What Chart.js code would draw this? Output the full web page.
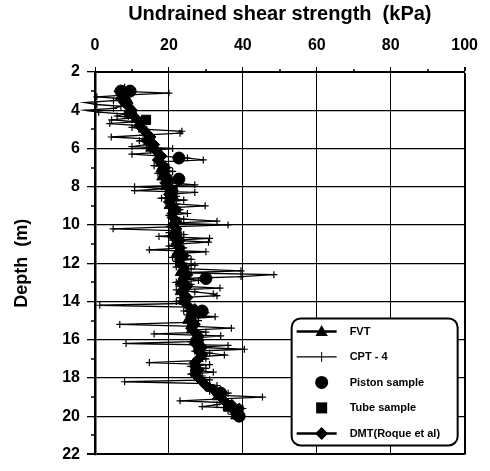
<!DOCTYPE html>
<html>
<head>
<meta charset="utf-8">
<script src="https://cdn.jsdelivr.net/npm/chart.js@4.4.1/dist/chart.umd.min.js"></script>
<style>
  html, body { margin: 0; padding: 0; background: #fff; }
</style>
</head>
<body>
<canvas id="chart_strength" width="490" height="471"></canvas>
<script>
// CPT - 4 trace, one reading every 0.1 m
const cptDepth = [
  2.8, 2.9,
  3.0, 3.1, 3.2, 3.3, 3.4, 3.5, 3.6, 3.7, 3.8, 3.9,
  4.0, 4.1, 4.2, 4.3, 4.4, 4.5, 4.6, 4.7, 4.8, 4.9,
  5.0, 5.1, 5.2, 5.3, 5.4, 5.5, 5.6, 5.7, 5.8, 5.9,
  6.0, 6.1, 6.2, 6.3, 6.4, 6.5, 6.6, 6.7, 6.8, 6.9,
  7.0, 7.1, 7.2, 7.3, 7.4, 7.5, 7.6, 7.7, 7.8, 7.9,
  8.0, 8.1, 8.2, 8.3, 8.4, 8.5, 8.6, 8.7, 8.8, 8.9,
  9.0, 9.1, 9.2, 9.3, 9.4, 9.5, 9.6, 9.7, 9.8, 9.9,
  10.0, 10.1, 10.2, 10.3, 10.4, 10.5, 10.6, 10.7, 10.8, 10.9,
  11.0, 11.1, 11.2, 11.3, 11.4, 11.5, 11.6, 11.7, 11.8, 11.9,
  12.0, 12.1, 12.2, 12.3, 12.4, 12.5, 12.6, 12.7, 12.8, 12.9,
  13.0, 13.1, 13.2, 13.3, 13.4, 13.5, 13.6, 13.7, 13.8, 13.9,
  14.0, 14.1, 14.2, 14.3, 14.4, 14.5, 14.6, 14.7, 14.8, 14.9,
  15.0, 15.1, 15.2, 15.3, 15.4, 15.5, 15.6, 15.7, 15.8, 15.9,
  16.0, 16.1, 16.2, 16.3, 16.4, 16.5, 16.6, 16.7, 16.8, 16.9,
  17.0, 17.1, 17.2, 17.3, 17.4, 17.5, 17.6, 17.7, 17.8, 17.9,
  18.0, 18.1, 18.2, 18.3, 18.4, 18.5, 18.6, 18.7, 18.8, 18.9,
  19.0, 19.1, 19.2, 19.3, 19.4, 19.5, 19.6, 19.7, 19.8, 19.9,
  20.0
];
const cptSu = [
  8, 10,
  6, 20, 9, 0.5, 8, 5, -2.7, 0.5, 7, 5,
  -2.7, 1, 8, 6, 10, 4.5, 11, 4, 12, 10,
  14, 23.5, 23, 13, 4.4, 14, 12, 16, 14, 10,
  21, 15, 17, 10, 18, 25, 29.3, 17, 19, 16,
  20, 18, 21, 17, 20, 18, 22, 19, 21, 27,
  10.7, 19, 10.7, 27, 20, 22, 18, 24, 20, 22,
  29.8, 20, 23, 21, 25, 20, 22, 24, 33, 21,
  36, 20, 4.9, 22, 20, 24, 17.3, 31, 21, 30.7,
  22, 20, 24, 14.7, 30, 22, 25, 21, 26, 22,
  24, 27, 22, 26, 39.5, 23, 48.4, 39.5, 24, 28,
  22, 26, 23, 33.8, 22, 27, 32, 33, 23, 25,
  22, 24, 1.3, 25, 29, 24, 30, 25, 32.5, 26,
  28, 25, 6.7, 27, 36.9, 26, 30, 16, 34, 27,
  29, 26, 8.4, 36, 28, 40.4, 27, 31, 35, 28,
  30, 27, 14.7, 31, 26, 30, 27, 32, 26, 29,
  28, 31, 8, 30, 33, 30, 34, 31, 36, 33,
  45.3, 34, 23, 36, 33, 29, 40, 36, 38, 37,
  39
];

// DMT (Roque et al), every 0.2 m
const dmtDepth = [
  3.0, 3.2, 3.4, 3.6, 3.8, 4.0, 4.2, 4.4, 4.6, 4.8,
  5.0, 5.2, 5.4, 5.6, 5.8, 6.0, 6.2, 6.4, 6.6, 6.8,
  7.0, 7.2, 7.4, 7.6, 7.8, 8.0, 8.2, 8.4, 8.6, 8.8,
  9.0, 9.2, 9.4, 9.6, 9.8, 10.0, 10.2, 10.4, 10.6, 10.8,
  11.0, 11.2, 11.4, 11.6, 11.8, 12.0, 12.2, 12.4, 12.6, 12.8,
  13.0, 13.2, 13.4, 13.6, 13.8, 14.0, 14.2, 14.4, 14.6, 14.8,
  15.0, 15.2, 15.4, 15.6, 15.8, 16.0, 16.2, 16.4, 16.6, 16.8,
  17.0, 17.2, 17.4, 17.6, 17.8, 18.0, 18.2, 18.4, 18.6, 18.8,
  19.0, 19.2, 19.4, 19.6, 19.8, 20.0
];
const dmtSu = [
  9, 8, 7, 8, 9, 10, 9, 11, 12, 12,
  13, 14, 15, 14, 16, 16, 17, 18, 17, 18,
  19, 18, 19, 20, 19, 20, 21, 20, 21, 20,
  21, 22, 21, 21, 22, 21, 22, 22, 21, 23,
  22, 23, 23, 24, 23, 23, 24, 24, 25, 24,
  24, 25, 24, 24, 25, 24, 25, 27, 28, 26,
  26, 27, 26, 27, 28, 28, 27, 29, 28, 29,
  28, 27, 27, 28, 27, 28, 29, 30, 32, 33,
  34, 35, 37, 39, 38, 39
];

// field vane tests
const fvtDepth = [
  3.0, 3.5, 4.0, 4.5, 5.0, 5.5, 6.0, 6.5, 7.0, 7.5,
  8.0, 8.5, 9.0, 9.5, 10.0, 10.5, 11.0, 11.5, 12.0, 12.5,
  13.0, 13.5, 14.0, 14.5, 15.0, 15.5, 16.0, 16.5, 17.0, 17.5,
  18.0, 18.5, 19.0, 19.5, 20.0
];
const fvtSu = [
  8, 9, 10, 11, 13, 14, 15, 17, 18, 18,
  19, 20, 20, 21, 21, 21, 22, 22, 23, 23,
  23, 23, 24, 26, 25, 26, 27, 28, 28, 27,
  28, 31, 33, 36, 38
];

// laboratory tests on samples
const pistonDepth = [3.0, 3.0, 6.5, 7.6, 12.8, 14.5, 18.8, 20.0];
const pistonSu = [7, 9.5, 22.7, 22.7, 30, 29, 34, 39];
const tubeDepth = [4.5, 8.2, 10.5, 16.3, 19.5];
const tubeSu = [13.8, 21, 22, 28, 36];

const seriesLabels = ['FVT', 'CPT - 4', 'Piston sample', 'Tube sample', 'DMT(Roque et al)'];

const depthTicks = [2, 4, 6, 8, 10, 12, 14, 16, 18, 20, 22];
const strengthTicks = [0, 20, 40, 60, 80, 100];

const fontFamily = "'Liberation Sans', Arial, Helvetica, sans-serif";
const ink = '#000';

function toPoints(depths, values) {
  return depths.map((d, i) => ({ x: values[i], y: d }));
}

// small outward ticks half way between the labelled ones
const minorTicks = {
  id: 'minorTicks',
  afterDraw(chart) {
    const { ctx, chartArea, scales: { x, y } } = chart;
    ctx.save();
    ctx.strokeStyle = ink;
    ctx.lineWidth = 1.5;
    ctx.beginPath();
    for (let i = 1; i < x.ticks.length; i++) {
      const px = Math.round(x.getPixelForValue((x.ticks[i - 1].value + x.ticks[i].value) / 2));
      ctx.moveTo(px, chartArea.top - 3);
      ctx.lineTo(px, chartArea.top + 1);
    }
    for (let i = 1; i < y.ticks.length; i++) {
      const py = Math.round(y.getPixelForValue((y.ticks[i - 1].value + y.ticks[i].value) / 2));
      ctx.moveTo(chartArea.left - 4, py);
      ctx.lineTo(chartArea.left + 1, py);
    }
    ctx.stroke();
    ctx.restore();
  }
};

function drawMarker(ctx, style, x, y, r) {
  ctx.beginPath();
  if (style === 'triangle') {
    ctx.moveTo(x, y - r);
    ctx.lineTo(x + r * 0.95, y + r * 0.7);
    ctx.lineTo(x - r * 0.95, y + r * 0.7);
    ctx.closePath();
    ctx.fill();
  } else if (style === 'circle') {
    ctx.arc(x, y, r, 0, Math.PI * 2);
    ctx.fill();
  } else if (style === 'rect') {
    ctx.rect(x - r * 0.85, y - r * 0.85, r * 1.7, r * 1.7);
    ctx.fill();
  } else if (style === 'rectRot') {
    ctx.moveTo(x, y - r);
    ctx.lineTo(x + r, y);
    ctx.lineTo(x, y + r);
    ctx.lineTo(x - r, y);
    ctx.closePath();
    ctx.fill();
  } else if (style === 'cross') {
    ctx.moveTo(x, y - r);
    ctx.lineTo(x, y + r);
    ctx.lineWidth = 1;
    ctx.stroke();
  }
}

// legend in a rounded box at the lower right of the plot
const boxLegend = {
  id: 'boxLegend',
  afterDatasetsDraw(chart) {
    const { ctx, chartArea } = chart;
    const left = chartArea.right - 173;
    const top = chartArea.bottom - 136;
    const w = 166, h = 127, rad = 9;
    ctx.save();
    ctx.beginPath();
    ctx.moveTo(left + rad, top);
    ctx.arcTo(left + w, top, left + w, top + h, rad);
    ctx.arcTo(left + w, top + h, left, top + h, rad);
    ctx.arcTo(left, top + h, left, top, rad);
    ctx.arcTo(left, top, left + w, top, rad);
    ctx.closePath();
    ctx.fillStyle = '#fff';
    ctx.fill();
    ctx.strokeStyle = ink;
    ctx.lineWidth = 2;
    ctx.stroke();

    ctx.font = 'bold 11px ' + fontFamily;
    ctx.textBaseline = 'middle';
    ctx.textAlign = 'left';
    chart.data.datasets.forEach((ds, i) => {
      const cy = top + 13 + i * 25.5;
      const cx = left + 30;
      ctx.fillStyle = ink;
      ctx.strokeStyle = ink;
      if (ds.showLine) {
        ctx.beginPath();
        ctx.lineWidth = ds.borderWidth;
        ctx.moveTo(left + 5, cy);
        ctx.lineTo(left + 45, cy);
        ctx.stroke();
      }
      drawMarker(ctx, ds.pointStyle, cx, cy, ds.pointStyle === 'cross' ? 5 : 6.5);
      ctx.fillText(ds.label, left + 58, cy + 0.5);
    });
    ctx.restore();
  }
};

new Chart(document.getElementById('chart_strength'), {
  type: 'scatter',
  data: {
    datasets: [
      {
        label: seriesLabels[0],
        data: toPoints(fvtDepth, fvtSu),
        showLine: true,
        borderColor: ink,
        backgroundColor: ink,
        borderWidth: 2.5,
        pointStyle: 'triangle',
        pointRadius: 5.5,
        pointBorderWidth: 1
      },
      {
        label: seriesLabels[1],
        data: toPoints(cptDepth, cptSu),
        showLine: true,
        borderColor: ink,
        backgroundColor: ink,
        borderWidth: 1.3,
        pointStyle: 'cross',
        pointRadius: 3.5,
        pointBorderWidth: 1.2,
        clip: false
      },
      {
        label: seriesLabels[2],
        data: toPoints(pistonDepth, pistonSu),
        showLine: false,
        borderColor: ink,
        backgroundColor: ink,
        pointStyle: 'circle',
        pointRadius: 6
      },
      {
        label: seriesLabels[3],
        data: toPoints(tubeDepth, tubeSu),
        showLine: false,
        borderColor: ink,
        backgroundColor: ink,
        pointStyle: 'rect',
        pointRadius: 6.5
      },
      {
        label: seriesLabels[4],
        data: toPoints(dmtDepth, dmtSu),
        showLine: true,
        borderColor: ink,
        backgroundColor: ink,
        borderWidth: 2.5,
        pointStyle: 'rectRot',
        pointRadius: 5.5,
        pointBorderWidth: 1
      }
    ]
  },
  options: {
    responsive: false,
    animation: false,
    events: [],
    layout: { padding: { left: 0, right: 20, top: 0, bottom: 12 } },
    plugins: {
      legend: { display: false },
      tooltip: { enabled: false }
    },
    scales: {
      x: {
        type: 'linear',
        position: 'top',
        min: 0,
        max: 100,
        afterFit(scale) { scale.height = 72; },
        afterBuildTicks(scale) { scale.ticks = strengthTicks.map(v => ({ value: v })); },
        title: {
          display: true,
          text: 'Undrained shear strength  (kPa)',
          color: ink,
          font: { family: fontFamily, size: 20, weight: 'bold' },
          padding: { top: 2, bottom: 0 }
        },
        ticks: {
          color: ink,
          padding: 12,
          font: { family: fontFamily, size: 16, weight: 'bold' }
        },
        grid: {
          color: ink,
          lineWidth: (c) => (c.tick && c.tick.value === 100 ? 2 : 1),
          tickColor: ink,
          tickLength: 5
        },
        border: { display: true, color: ink, width: 2 }
      },
      y: {
        type: 'linear',
        reverse: true,
        min: 2,
        max: 22,
        afterFit(scale) { scale.width = 95; },
        afterBuildTicks(scale) { scale.ticks = depthTicks.map(v => ({ value: v })); },
        title: {
          display: true,
          text: 'Depth  (m)',
          color: ink,
          font: { family: fontFamily, size: 18, weight: 'bold' },
          padding: { top: 11, bottom: 0 }
        },
        ticks: {
          color: ink,
          padding: 7,
          font: { family: fontFamily, size: 16, weight: 'bold' }
        },
        grid: {
          color: ink,
          lineWidth: (c) => (c.tick && c.tick.value === 22 ? 2 : 1.3),
          tickColor: ink,
          tickLength: 8
        },
        border: { display: true, color: ink, width: 2.5 }
      }
    }
  },
  plugins: [minorTicks, boxLegend]
});
</script>
</body>
</html>
